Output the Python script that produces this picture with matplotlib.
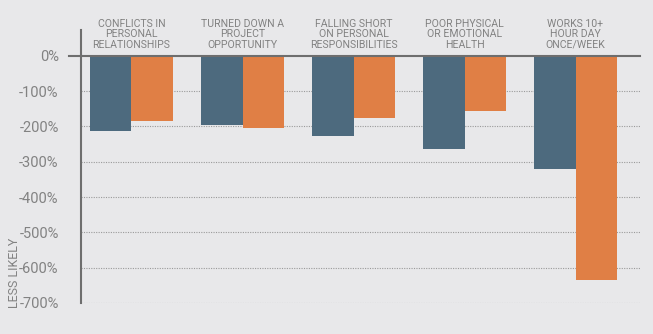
import matplotlib.pyplot as plt
import numpy as np

categories = [
    "CONFLICTS IN\nPERSONAL\nRELATIONSHIPS",
    "TURNED DOWN A\nPROJECT\nOPPORTUNITY",
    "FALLING SHORT\nON PERSONAL\nRESPONSIBILITIES",
    "POOR PHYSICAL\nOR EMOTIONAL\nHEALTH",
    "WORKS 10+\nHOUR DAY\nONCE/WEEK",
]
series_blue = [-213, -196, -226, -263, -322]
series_orange = [-185, -205, -176, -156, -635]
yticks = [0, -100, -200, -300, -400, -500, -600, -700]
ytick_labels = ["0%", "-100%", "-200%", "-300%", "-400%", "-500%", "-600%", "-700%"]

bg = "#e8e8ea"
blue = "#4d6a7e"
orange = "#e07f45"
gray = "#828282"

plt.rcParams['font.family'] = ['Roboto', 'DejaVu Sans']

fig = plt.figure(figsize=(6.53, 3.34), dpi=100, facecolor=bg)
ax = fig.add_axes([0.124, 0.093, 0.856, 0.817])
ax.set_facecolor(bg)

x = np.arange(len(categories))
w = 0.374
ax.bar(x - w / 2, series_blue, width=w, color=blue, zorder=3)
ax.bar(x + w / 2, series_orange, width=w, color=orange, zorder=3)

ax.set_xlim(-0.455, 4.58)
ax.set_ylim(-700, 73)

for t in yticks[1:]:
    ax.axhline(t, color="#9a9a9a", lw=0.8, ls=(0, (1, 1.2)), zorder=1)
ax.plot([-0.455, 4.58], [0, 0], color="#6e6e6e", lw=1.5, zorder=4, clip_on=False)

ax.set_yticks(yticks)
ax.set_yticklabels(ytick_labels, fontsize=10.5, color=gray)
ax.tick_params(axis='y', length=0, pad=16)
ax.set_xticks([])
# only the 0% tick is drawn
ax.plot([-0.565, -0.455], [0, 0], color="#6e6e6e", lw=1.5, clip_on=False, zorder=4)

for s in ["top", "right", "bottom"]:
    ax.spines[s].set_visible(False)
ax.spines["left"].set_color("#6e6e6e")
ax.spines["left"].set_linewidth(1.5)

for i, c in enumerate(categories):
    ax.text(i, 17, c, ha="center", va="bottom", fontsize=7.6, color=gray,
            linespacing=1.05)

fig.text(0.022, 0.078, "LESS LIKELY", rotation=90, ha="center", va="bottom",
         fontsize=9, color=gray)

fig.savefig("out.png", dpi=100, facecolor=bg)
